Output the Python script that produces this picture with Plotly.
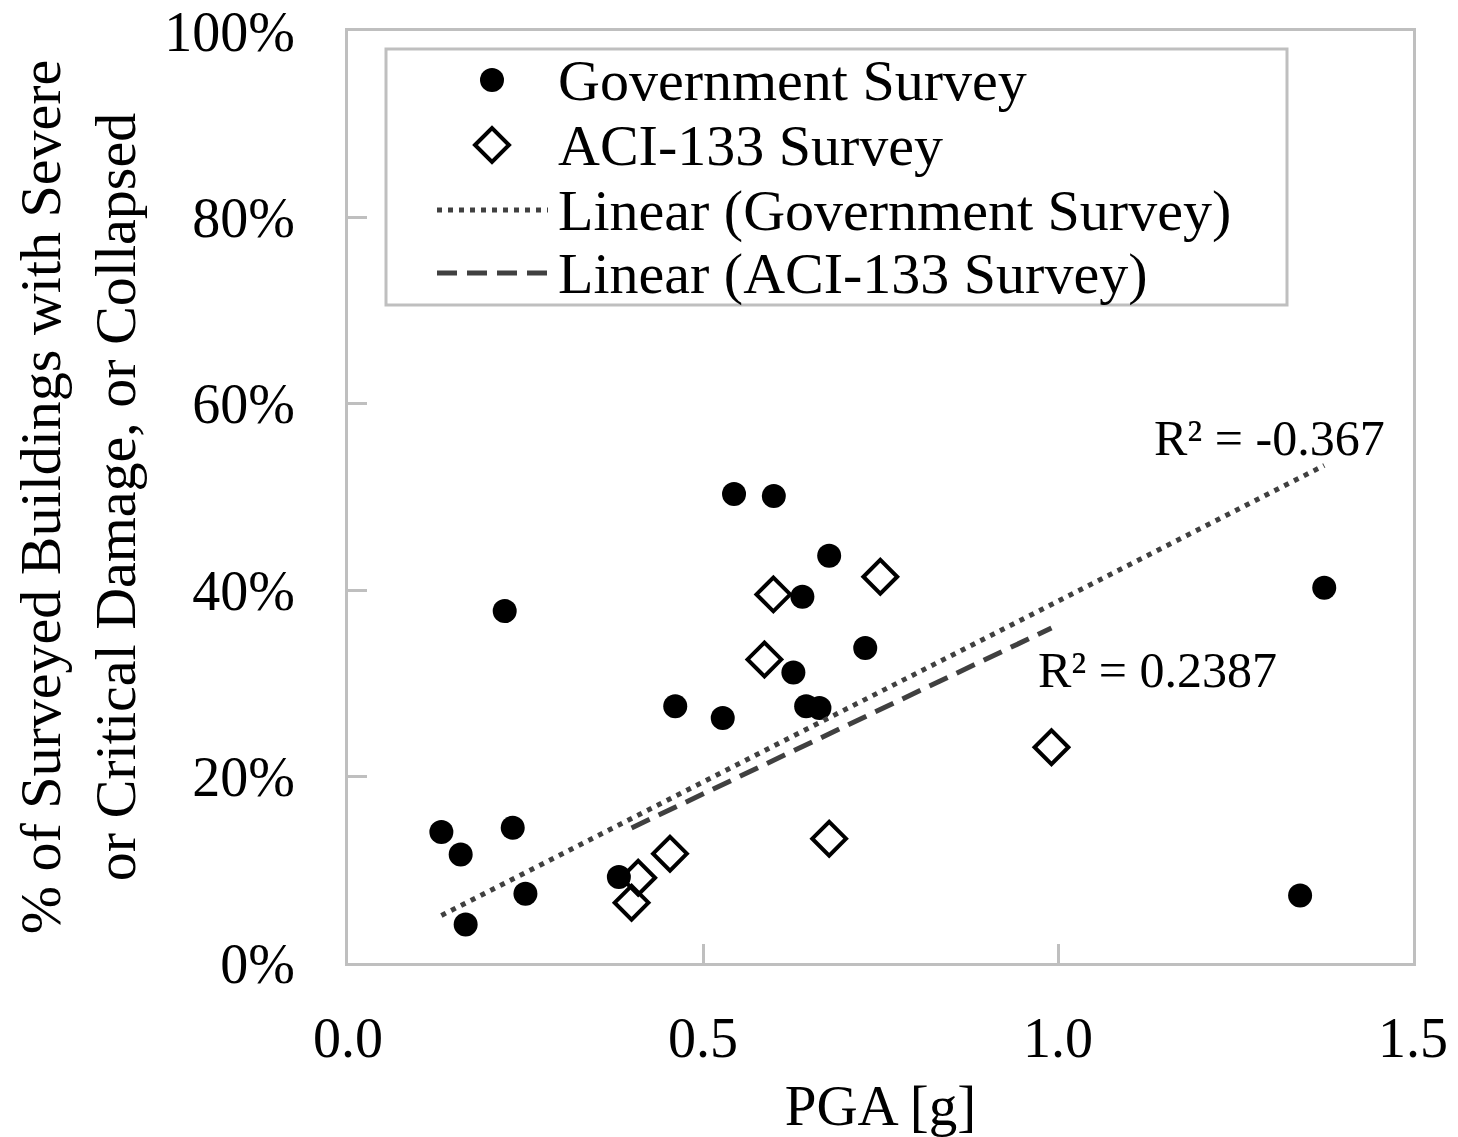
import numpy as np
import plotly.graph_objects as go

# ---------------- data ----------------
gov_pga = [0.1315, 0.1587, 0.1657, 0.2207, 0.2320, 0.2499, 0.3815, 0.4609, 0.5278,
           0.5437, 0.5997, 0.6400, 0.6273, 0.6453, 0.6640, 0.6777, 0.7285, 1.3410, 1.3750]
gov_pct = [14.05, 11.65, 4.14, 37.76, 14.52, 7.43, 9.22, 27.55, 26.29,
           50.32, 50.11, 39.29, 31.17, 27.55, 27.37, 43.69, 33.81, 7.25, 40.26]

aci_pga = [0.3994, 0.4087, 0.4535, 0.5865, 0.5991, 0.6777, 0.7497, 0.9908]
aci_pct = [6.47, 9.15, 11.73, 32.57, 39.55, 13.34, 41.44, 23.15]

r2_labels = ["R² = -0.367", "R² = 0.2387"]
legend_names = ["Government Survey", "ACI-133 Survey",
                "Linear (Government Survey)", "Linear (ACI-133 Survey)"]
x_ticks = [0.0, 0.5, 1.0, 1.5]
y_ticks = [0, 20, 40, 60, 80, 100]


def origin_fit(xs, ys):
    xs = np.asarray(xs, float)
    ys = np.asarray(ys, float)
    slope = float((xs * ys).sum() / (xs * xs).sum())
    xr = np.array([xs.min(), xs.max()])
    return xr, slope * xr


gov_tx, gov_ty = origin_fit(gov_pga, gov_pct)
aci_tx, aci_ty = origin_fit(aci_pga, aci_pct)

# ---------------- layout geometry ----------------
OFF = 8  # default page body margin
W, H = 1458 - OFF, 1137 - OFF
ML, MR, MT, MB = 348 - OFF, 45, 31 - OFF, 174
PW, PH = W - ML - MR, H - MT - MB
FONT = "Liberation Serif, Times New Roman, serif"
AXC = "#bfbfbf"
TREND = "#404040"


def px(x):
    return (x - OFF - ML) / PW


def py(y):
    return (OFF + H - MB - y) / PH


fig = go.Figure()
fig.add_trace(go.Scatter(x=gov_pga, y=gov_pct, mode="markers", name=legend_names[0],
                         marker=dict(symbol="circle", size=24, color="black"),
                         showlegend=False))
fig.add_trace(go.Scatter(x=aci_pga, y=aci_pct, mode="markers", name=legend_names[1],
                         marker=dict(symbol="diamond-open", size=26, color="black",
                                     line=dict(width=4, color="black")),
                         showlegend=False))
fig.add_trace(go.Scatter(x=gov_tx, y=gov_ty, mode="lines", name=legend_names[2],
                         line=dict(color=TREND, width=5, dash="5px,6px"),
                         showlegend=False))
fig.add_trace(go.Scatter(x=aci_tx, y=aci_ty, mode="lines", name=legend_names[3],
                         line=dict(color=TREND, width=5, dash="20px,10px"),
                         showlegend=False))

# ---------------- manual legend ----------------
shapes = []
annotations = []
shapes.append(dict(type="rect", xref="paper", yref="paper",
                   x0=px(386), x1=px(1287), y0=py(305), y1=py(49),
                   line=dict(color=AXC, width=3), fillcolor="white", layer="below"))
rows = [80, 145, 210, 273]
shapes.append(dict(type="circle", xref="paper", yref="paper",
                   x0=px(480), x1=px(504), y0=py(rows[0] + 12), y1=py(rows[0] - 12),
                   line=dict(color="black", width=0), fillcolor="black"))
cx, cy, r = 492, rows[1], 17
shapes.append(dict(type="path", xref="paper", yref="paper",
                   path=f"M {px(cx - r)} {py(cy)} L {px(cx)} {py(cy - r)} "
                        f"L {px(cx + r)} {py(cy)} L {px(cx)} {py(cy + r)} Z",
                   line=dict(color="black", width=4)))
shapes.append(dict(type="line", xref="paper", yref="paper",
                   x0=px(437), x1=px(548), y0=py(rows[2]), y1=py(rows[2]),
                   line=dict(color=TREND, width=5, dash="5px,6px")))
shapes.append(dict(type="line", xref="paper", yref="paper",
                   x0=px(437), x1=px(549), y0=py(rows[3]), y1=py(rows[3]),
                   line=dict(color=TREND, width=5, dash="20px,10px")))
for name, ry in zip(legend_names, rows):
    annotations.append(dict(text=name, xref="paper", yref="paper",
                            x=px(556), y=py(ry), xanchor="left", yanchor="middle",
                            showarrow=False, font=dict(family=FONT, size=58, color="black")))

annotations.append(dict(text=r2_labels[0], x=1.298, y=56.3, xref="x", yref="y",
                        showarrow=False, xanchor="center", yanchor="middle",
                        font=dict(family=FONT, size=50, color="black")))
annotations.append(dict(text=r2_labels[1], x=1.140, y=31.4, xref="x", yref="y",
                        showarrow=False, xanchor="center", yanchor="middle",
                        font=dict(family=FONT, size=50, color="black")))

fig.update_layout(
    width=W, height=H,
    margin=dict(l=ML, r=MR, t=MT, b=MB, autoexpand=False),
    paper_bgcolor="white", plot_bgcolor="white",
    font=dict(family=FONT, size=56, color="black"),
    shapes=shapes, annotations=annotations,
    showlegend=False,
)
fig.update_xaxes(
    range=[0, 1.5], tickvals=x_ticks, ticktext=[f"{v:.1f}" for v in x_ticks],
    showgrid=False, zeroline=False, automargin=False,
    showline=True, linecolor=AXC, linewidth=3, mirror=True,
    ticks="inside", ticklen=19, tickwidth=3, tickcolor=AXC,
    ticklabelstandoff=24, ticklabeloverflow="allow",
    tickfont=dict(family=FONT, size=56, color="black"),
    title=dict(text="PGA [g]", font=dict(family=FONT, size=57, color="black"), standoff=28),
)
fig.update_yaxes(
    range=[0, 100], tickvals=y_ticks, ticktext=[f"{v}%" for v in y_ticks],
    showgrid=False, zeroline=False, automargin=False,
    showline=True, linecolor=AXC, linewidth=3, mirror=True,
    ticks="inside", ticklen=19, tickwidth=3, tickcolor=AXC,
    ticklabelstandoff=39, ticklabeloverflow="allow",
    tickfont=dict(family=FONT, size=56, color="black"),
    title=dict(text="% of Surveyed Buildings with Severe<br>or Critical Damage, or Collapsed",
               font=dict(family=FONT, size=58, color="black"), standoff=37),
)

fig.write_html("out.html")
